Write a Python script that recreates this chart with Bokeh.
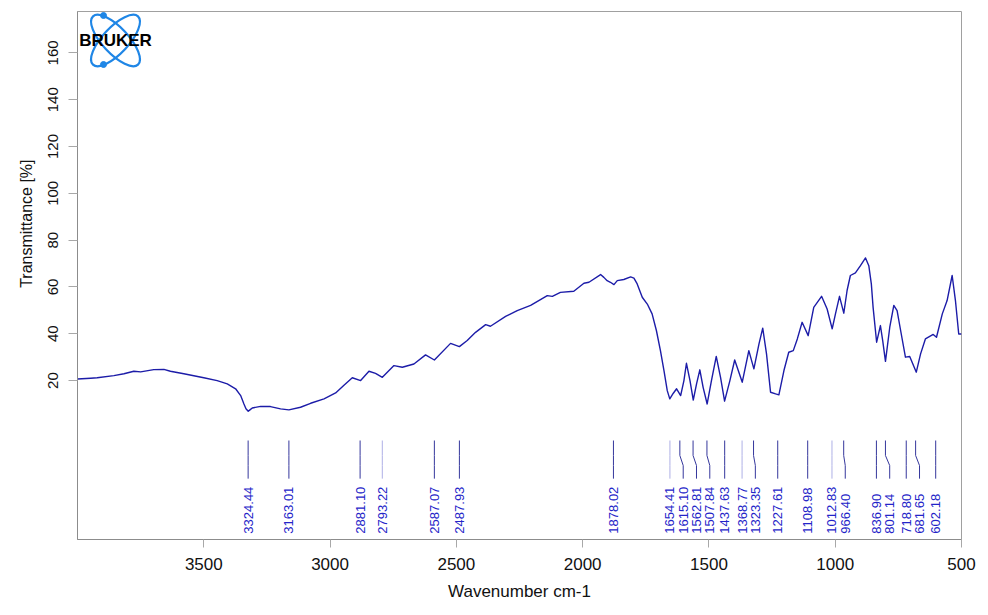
import math
from bokeh.plotting import figure
from bokeh.models import Range1d, FixedTicker, ColumnDataSource, Label, Title
from bokeh.embed import file_html
from bokeh.resources import INLINE
from bokeh.core.properties import value

# ---------------- data ----------------
wavenumber = [4000, 3948, 3922, 3856, 3816, 3777, 3750, 3698, 3658, 3632,
              3579, 3500, 3447, 3407, 3374, 3354, 3341, 3333, 3324, 3316,
              3308, 3275, 3236, 3196, 3163, 3117, 3077, 3024, 2978, 2945,
              2912, 2879, 2846, 2820, 2793, 2747, 2714, 2668, 2622, 2587,
              2523, 2488, 2457, 2424, 2384, 2365, 2305, 2259, 2206, 2140,
              2120, 2088, 2035, 1995, 1975, 1929, 1916, 1903, 1890, 1876,
              1863, 1837, 1810, 1797, 1784, 1764, 1744, 1725, 1708, 1692,
              1678, 1665, 1655, 1641, 1628, 1612, 1599, 1589, 1575, 1562,
              1549, 1536, 1523, 1507, 1490, 1471, 1454, 1438, 1417, 1398,
              1368, 1342, 1322, 1302, 1287, 1272, 1256, 1236, 1223, 1203,
              1184, 1166, 1150, 1131, 1107, 1085, 1054, 1032, 1012, 999,
              983, 966, 953, 940, 920, 900, 880, 867, 857, 850,
              836, 821, 812, 801, 784, 768, 755, 741, 722, 705,
              679, 662, 643, 612, 599, 576, 557, 537, 524, 511,
              500]
transmittance = [20.7, 21.0, 21.2, 22.1, 22.9, 24.0, 23.7, 24.7, 24.8, 24.0,
                 22.9, 21.2, 20.0, 18.6, 16.5, 13.6, 10.0, 8.0, 6.9, 7.6,
                 8.3, 9.0, 8.9, 7.9, 7.5, 8.6, 10.3, 12.2, 14.7, 18.0,
                 21.2, 20.0, 24.0, 23.1, 21.4, 26.4, 25.7, 27.1, 31.0, 28.8,
                 35.9, 34.5, 37.1, 40.6, 43.9, 43.2, 47.4, 49.9, 52.1, 56.3,
                 56.0, 57.7, 58.2, 61.6, 62.0, 65.3, 64.1, 62.7, 62.0, 61.0,
                 62.7, 63.2, 64.3, 63.8, 61.3, 55.6, 52.7, 48.5, 41.4, 32.8,
                 24.3, 15.7, 12.2, 14.6, 16.5, 13.6, 20.0, 27.4, 20.0, 11.7,
                 18.6, 24.6, 17.1, 10.0, 20.0, 30.3, 21.4, 11.2, 20.0, 28.8,
                 19.3, 32.8, 25.0, 35.6, 42.4, 31.4, 15.0, 14.3, 13.9, 24.3,
                 32.1, 32.8, 37.8, 44.9, 39.2, 51.3, 56.0, 50.6, 42.1, 48.5,
                 56.0, 48.8, 58.5, 64.9, 66.0, 69.1, 72.4, 69.1, 61.3, 51.3,
                 36.4, 43.5, 37.1, 28.2, 42.8, 52.1, 49.9, 41.4, 30.0, 30.3,
                 23.6, 31.4, 37.8, 39.7, 38.5, 48.5, 54.2, 64.9, 54.2, 39.9,
                 39.9]

peaks = [3324.44, 3163.01, 2881.10, 2793.22, 2587.07, 2487.93, 1878.02,
         1654.41, 1615.10, 1562.81, 1507.84, 1437.63, 1368.77, 1323.35,
         1227.61, 1108.98, 1012.83, 966.40, 836.90, 801.14, 718.80,
         681.65, 602.18]
weak_peaks = [2793.22, 1654.41, 1368.77, 1012.83]

x_ticks = [3500, 3000, 2500, 2000, 1500, 1000, 500]
y_ticks = [20, 40, 60, 80, 100, 120, 140, 160]

# ---------------- layout constants ----------------
W, H = 980, 607
BL, BR, BT, BB = 77, 19, 11, 68
X0, X1 = 4000, 500
Y0, Y1 = -47.9, 177.7
FONT = "Liberation Sans"

p = figure(width=W, height=H, output_backend="svg", toolbar_location=None,
           x_range=Range1d(X0, X1), y_range=Range1d(Y0, Y1),
           min_border_left=BL, min_border_right=BR,
           min_border_top=BT, min_border_bottom=BB)
p.xgrid.visible = False
p.ygrid.visible = False
p.outline_line_color = "#a0a0a0"
p.outline_line_width = 1
p.background_fill_color = "white"
p.border_fill_color = "white"

for ax in (p.xaxis[0], p.yaxis[0]):
    ax.axis_line_color = "#8c8c8c"
    ax.major_tick_line_color = "#a8a8a8"
    ax.minor_tick_line_color = None
    ax.major_tick_in = 0
    ax.major_label_text_font = FONT
    ax.major_label_text_color = "#111111"
    ax.axis_label_text_font = FONT
    ax.axis_label_text_font_style = "normal"
    ax.axis_label_text_color = "#111111"

p.xaxis.ticker = FixedTicker(ticks=x_ticks)
p.xaxis.major_tick_out = 8
p.xaxis.major_label_text_font_size = "17px"
p.xaxis.major_label_standoff = 10
p.xaxis.axis_label = "Wavenumber cm-1"
p.xaxis.axis_label_text_font_size = "17px"
p.xaxis.axis_label_standoff = 9

p.yaxis.ticker = FixedTicker(ticks=y_ticks)
p.yaxis.major_tick_out = 9
p.yaxis.major_label_orientation = "vertical"
p.yaxis.major_label_text_font_size = "15px"
p.yaxis.major_label_standoff = 10

# y axis title as a side title so that it can sit above the frame centre
p.add_layout(Title(text="Transmittance [%]", align="right", offset=148,
                   text_font=FONT, text_font_size="16px",
                   text_font_style="normal", text_color="#111111",
                   standoff=21), "left")

# spectrum
p.line(wavenumber, transmittance, line_color="#1c1ca8", line_width=1.4,
       line_join="round")

# peak markers with de-overlapped labels
gap = 52.6
label_pos = []
prev = None
for w in peaks:
    lp = w if prev is None else min(w, prev - gap)
    label_pos.append(lp)
    prev = lp

y_top, y_b1, y_b2, y_bot, y_lab = -5.6, -12.0, -16.3, -21.9, -45.4
xs, ys, cols = [], [], []
for w, lp in zip(peaks, label_pos):
    xs.append([w, w, lp, lp])
    ys.append([y_top, y_b1, y_b2, y_bot])
    cols.append("#aeb0e6" if w in weak_peaks else "#35379c")
p.multi_line(xs=xs, ys=ys, line_color=cols, line_width=1)

src = ColumnDataSource(dict(x=label_pos, y=[y_lab] * len(peaks),
                            t=["%.2f" % w for w in peaks]))
p.text(x="x", y="y", text="t", source=src, angle=math.pi / 2,
       text_align="left", text_baseline="middle",
       text_font=value(FONT), text_font_size="13px", text_color="#2424c8")

# helper for decorations placed in pixel space
fw = W - BL - BR
fh = H - BT - BB
def px2data(xp, yp):
    fx = (xp - BL) / fw
    fy = (yp - BT) / fh
    return X0 + (X1 - X0) * fx, Y1 - (Y1 - Y0) * fy

# Bruker logo
cx, cy = px2data(115, 40)
p.ellipse(x=[cx, cx], y=[cy, cy], width=66, height=26,
          width_units="screen", height_units="screen",
          angle=[math.radians(47), math.radians(-47)],
          fill_color=None, line_color="#1f86e6", line_width=2.2)
d1 = px2data(103, 15)
d2 = px2data(103, 64)
p.scatter(x=[d1[0], d2[0]], y=[d1[1], d2[1]], size=6,
          fill_color="#1f86e6", line_color="#1f86e6")
p.add_layout(Label(x=cx, y=cy, text="BRUKER", text_align="center",
                   text_baseline="middle", text_font=FONT,
                   text_font_style="bold", text_font_size="17px",
                   text_color="black"))

open("out.html", "w").write(file_html(p, INLINE))
